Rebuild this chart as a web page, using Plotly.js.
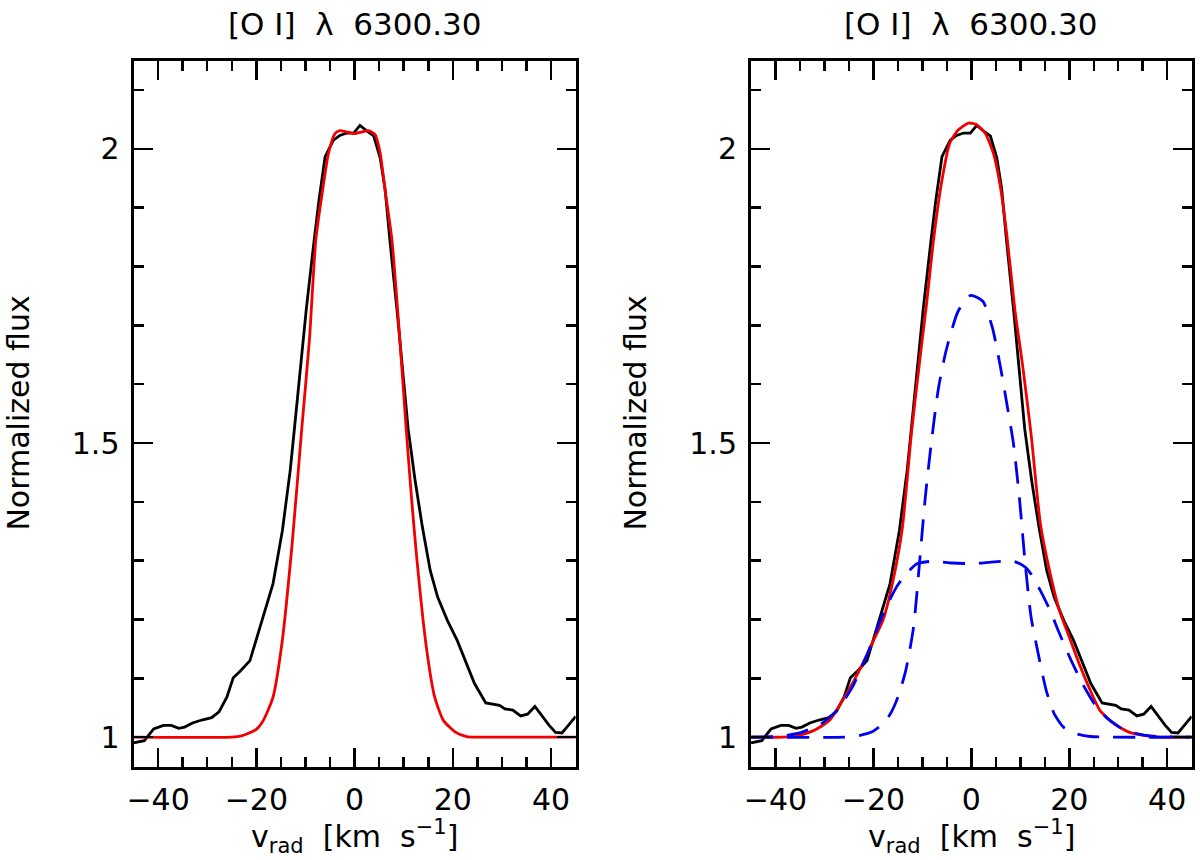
<!DOCTYPE html>
<html>
<head>
<meta charset="utf-8">
<script src="https://cdn.plot.ly/plotly-3.0.1.min.js"></script>
<style>
  html, body { margin: 0; padding: 0; background: #ffffff; }
  #chart { width: 1200px; height: 860px; }
</style>
</head>
<body>
<div id="chart"></div>
<script>
// ---------- data ----------
const panelTitle = "[O I]\u00A0 λ\u00A0 6300.30";
const yTitle = "Normalized flux";
const xTitle = "v<sub>rad</sub>\u00A0 [km\u00A0 s<sup>−1</sup>]";

// observed profile (same in both panels)
const vObs = [-45, -42.8, -40.9, -38.9, -37.3, -35.8, -34.6, -33.0, -31.1, -29.1, -27.6, -26.0, -24.7, -23.3, -21.3, -19.0, -16.6, -14.7, -13.1, -12.3, -9.8, -8.3, -7.3, -6.0, -4.3, -3.0, -1.6, -0.2, 1.1, 2.6, 3.9, 5.2, 6.2, 7.2, 8.7, 10.9, 12.3, 13.8, 15.4, 16.9, 18.9, 20.9, 22.8, 24.4, 26.7, 27.9, 29.5, 30.6, 32.2, 33.8, 35.2, 36.7, 38.0, 39.6, 40.9, 42.2, 43.5, 45];
const fObs = [0.990, 0.994, 1.014, 1.020, 1.020, 1.015, 1.017, 1.024, 1.029, 1.033, 1.043, 1.068, 1.101, 1.112, 1.130, 1.193, 1.261, 1.351, 1.454, 1.520, 1.730, 1.840, 1.910, 1.987, 2.015, 2.023, 2.027, 2.027, 2.040, 2.030, 2.022, 1.985, 1.932, 1.843, 1.720, 1.524, 1.437, 1.357, 1.283, 1.238, 1.198, 1.164, 1.125, 1.091, 1.058, 1.056, 1.054, 1.048, 1.046, 1.036, 1.039, 1.052, 1.037, 1.020, 1.008, 1.007, 1.020, 1.035];

// left panel: single-component fit
const vFitL = [-45, -25, -23, -21.7, -20, -18.6, -16.6, -14.7, -12.7, -10.8, -9.2, -7.9, -6.7, -5.3, -4.0, -3.0, -1.6, 0.0, 1.5, 2.8, 4.2, 5.2, 6.2, 7.6, 9.3, 10.5, 11.6, 12.7, 14.6, 16.3, 18.1, 20.5, 22.8, 25, 45];
const fFitL = [1.0, 1.0, 1.002, 1.006, 1.013, 1.028, 1.068, 1.165, 1.330, 1.520, 1.675, 1.845, 1.919, 1.993, 2.026, 2.031, 2.029, 2.026, 2.029, 2.031, 2.024, 1.993, 1.930, 1.845, 1.665, 1.524, 1.405, 1.300, 1.153, 1.068, 1.028, 1.0085, 1.001, 1.0, 1.0];

// right panel: total two-component fit
const vFitR = [-45, -38.4, -35.3, -32.2, -29.0, -26.7, -24.3, -22.0, -20.0, -18.0, -16.1, -14.1, -12.2, -10.4, -9.1, -7.8, -6.1, -4.4, -2.7, -0.6, 1.1, 2.8, 4.5, 5.8, 7.2, 8.9, 10.5, 12.2, 14.1, 16.1, 18.0, 20.0, 22.0, 24.0, 26.3, 29.1, 32.2, 35.3, 38.4, 45];
const fFitR = [1.0, 1.0, 1.003, 1.011, 1.028, 1.057, 1.091, 1.128, 1.164, 1.200, 1.262, 1.355, 1.520, 1.650, 1.740, 1.840, 1.942, 2.010, 2.032, 2.044, 2.041, 2.027, 1.993, 1.942, 1.857, 1.726, 1.630, 1.515, 1.363, 1.278, 1.215, 1.170, 1.125, 1.085, 1.045, 1.023, 1.0085, 1.003, 1.0, 1.0];

// right panel: narrow component
const vNarrow = [-45, -25.9, -22.7, -20.4, -18.0, -16.5, -15.0, -13.4, -11.8, -10.6, -9.4, -8.2, -6.7, -5.1, -2.7, -0.15, 2.35, 4.3, 5.9, 7.1, 8.6, 9.8, 11.0, 12.2, 13.8, 15.3, 16.9, 18.8, 21.2, 24.3, 45];
const fNarrow = [1.0, 1.0, 1.003, 1.0085, 1.023, 1.040, 1.068, 1.113, 1.187, 1.295, 1.408, 1.499, 1.594, 1.659, 1.724, 1.751, 1.741, 1.696, 1.631, 1.574, 1.499, 1.408, 1.295, 1.204, 1.136, 1.079, 1.040, 1.017, 1.006, 1.001, 1.0];

// right panel: broad component
const vBroad = [-45, -43.1, -38.4, -34.5, -30.6, -27.5, -24.3, -21.2, -18.0, -15.3, -13.3, -11.0, -7.8, -3.9, 0.4, 4.7, 8.6, 11.0, 12.2, 14.1, 16.1, 18.0, 20.4, 22.7, 25.1, 27.5, 30.6, 33.7, 37.6, 45];
const fBroad = [1.0, 1.0, 1.002, 1.0085, 1.023, 1.045, 1.085, 1.142, 1.210, 1.255, 1.278, 1.295, 1.299, 1.296, 1.295, 1.298, 1.299, 1.289, 1.277, 1.249, 1.215, 1.176, 1.130, 1.091, 1.057, 1.034, 1.015, 1.006, 1.001, 1.0];

const xRange = [-45, 45];
const yRange = [0.95, 2.15];

// ---------- styling ----------
const FONT = "DejaVu Sans, Liberation Sans, sans-serif";
const FS = 30;
const BLACK = "#000000";
const RED = "#f00000";
const BLUE = "#0000f0";
const LW = 2.8;
const DASH = "22px,14px";

function xAxis(domain, anchor) {
  return {
    domain: domain, anchor: anchor, range: xRange,
    tick0: 0, dtick: 20, ticks: "inside", ticklen: 19, tickwidth: 2.5, tickcolor: BLACK,
    minor: { dtick: 5, tick0: 0, ticks: "inside", ticklen: 10, tickwidth: 2.5, tickcolor: BLACK, showgrid: false },
    showline: true, linewidth: 3, linecolor: BLACK, mirror: "ticks",
    showgrid: false, zeroline: false,
    tickfont: { family: FONT, size: FS, color: BLACK },
    ticklabelstandoff: 4,
    automargin: false,
    fixedrange: true
  };
}
function yAxis(anchor) {
  return {
    domain: [0.10872, 0.92942], anchor: anchor, range: yRange,
    tick0: 0, dtick: 0.5, ticks: "inside", ticklen: 19, tickwidth: 2.5, tickcolor: BLACK,
    minor: { dtick: 0.1, tick0: 0, ticks: "inside", ticklen: 10, tickwidth: 2.5, tickcolor: BLACK, showgrid: false },
    showline: true, linewidth: 3, linecolor: BLACK, mirror: "ticks",
    showgrid: false, zeroline: false,
    tickfont: { family: FONT, size: FS, color: BLACK },
    ticklabelstandoff: 5,
    automargin: false,
    fixedrange: true
  };
}

const traces = [
  { x: vObs, y: fObs, xaxis: "x", yaxis: "y", mode: "lines", line: { color: BLACK, width: LW }, name: "observed" },
  { x: vFitL, y: fFitL, xaxis: "x", yaxis: "y", mode: "lines", line: { color: RED, width: LW, shape: "spline", smoothing: 0.6 }, name: "fit" },
  { x: vObs, y: fObs, xaxis: "x2", yaxis: "y2", mode: "lines", line: { color: BLACK, width: LW }, name: "observed" },
  { x: vFitR, y: fFitR, xaxis: "x2", yaxis: "y2", mode: "lines", line: { color: RED, width: LW, shape: "spline", smoothing: 0.6 }, name: "fit" },
  { x: vNarrow, y: fNarrow, xaxis: "x2", yaxis: "y2", mode: "lines", line: { color: BLUE, width: LW, dash: DASH, shape: "spline", smoothing: 0.6 }, name: "narrow" },
  { x: vBroad, y: fBroad, xaxis: "x2", yaxis: "y2", mode: "lines", line: { color: BLUE, width: LW, dash: DASH, shape: "spline", smoothing: 0.6 }, name: "broad" }
];

const annFont = { family: FONT, size: FS, color: BLACK };
const titleFont = { family: FONT, size: 31, color: BLACK };
const annotations = [];
["x", "x2"].forEach(function (xa) {
  annotations.push({ text: panelTitle, xref: xa + " domain", yref: "paper", x: 0.5, y: 1 - 24 / 860, xanchor: "center", yanchor: "middle", showarrow: false, font: titleFont });
  annotations.push({ text: xTitle, xref: xa + " domain", yref: "paper", x: 0.5, y: 1 - 836 / 860, xanchor: "center", yanchor: "middle", showarrow: false, font: annFont });
});
annotations.push({ text: yTitle, xref: "paper", yref: "y domain", x: 19 / 1200, y: 0.5, xanchor: "center", yanchor: "middle", textangle: -90, showarrow: false, font: annFont });
annotations.push({ text: yTitle, xref: "paper", yref: "y2 domain", x: 636 / 1200, y: 0.5, xanchor: "center", yanchor: "middle", textangle: -90, showarrow: false, font: annFont });

const layout = {
  width: 1200, height: 860,
  margin: { l: 0, r: 0, t: 0, b: 0, pad: 0 },
  paper_bgcolor: "#ffffff", plot_bgcolor: "#ffffff",
  showlegend: false,
  xaxis: xAxis([0.11125, 0.47975], "y"),
  yaxis: yAxis("x"),
  xaxis2: xAxis([0.62583, 0.99308], "y2"),
  yaxis2: yAxis("x2"),
  annotations: annotations,
  font: { family: FONT, size: FS, color: BLACK }
};

Plotly.newPlot("chart", traces, layout, { staticPlot: true, displayModeBar: false });
</script>
</body>
</html>
